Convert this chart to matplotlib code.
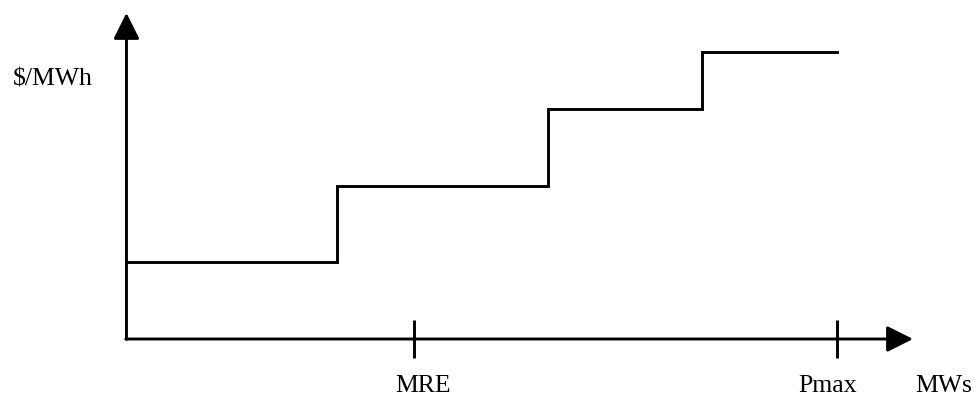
import matplotlib
matplotlib.use('Agg')
import matplotlib.pyplot as plt

# offer curve: MW breakpoints and price per block
mw_breaks = [0, 29.6, 59.3, 81.0, 100.0]
prices = [26.8, 53.4, 80.0, 100.0]
mre = 40.5
pmax = 100.0
tick_labels = ['MRE', 'Pmax']

plt.rcParams['font.family'] = ['Liberation Serif', 'DejaVu Serif']

fig = plt.figure(figsize=(9.77, 3.96), dpi=100, facecolor='w')
ax = fig.add_axes([0, 0, 1, 1])
ax.set_xlim(-17.8, 119.7)
ax.set_ylim(-19.84, 118.0)
ax.axis('off')

lw = 2.1
# axes with arrow heads
arrow = dict(arrowstyle='-|>,head_length=0.8,head_width=0.4', mutation_scale=20,
             lw=lw, color='black', shrinkA=0, shrinkB=0)
ax.annotate('', xy=(110.7, 0), xytext=(-0.1, 0), arrowprops=arrow)
ax.annotate('', xy=(0, 113.5), xytext=(0, -0.1), arrowprops=arrow)

# step curve
xs = []
ys = []
for i, p in enumerate(prices):
    xs += [mw_breaks[i], mw_breaks[i + 1]]
    ys += [p, p]
ax.plot(xs, ys, color='black', lw=lw, solid_joinstyle='miter')

# tick marks on x axis
ax.plot([mre, pmax], [0, 0], ls='none', marker='|', markersize=27,
        markeredgewidth=lw, color='black')

fs = 18.5
ax.text(37.9, -18.3, tick_labels[0], fontsize=fs, ha='left', va='baseline')
ax.text(94.5, -18.3, tick_labels[1], fontsize=fs, ha='left', va='baseline')
ax.text(111.0, -18.3, 'MWs', fontsize=fs, ha='left', va='baseline')
ax.text(-16.0, 88.1, '$/MWh', fontsize=fs, ha='left', va='baseline')

plt.savefig('out.png', dpi=100, facecolor='w')
